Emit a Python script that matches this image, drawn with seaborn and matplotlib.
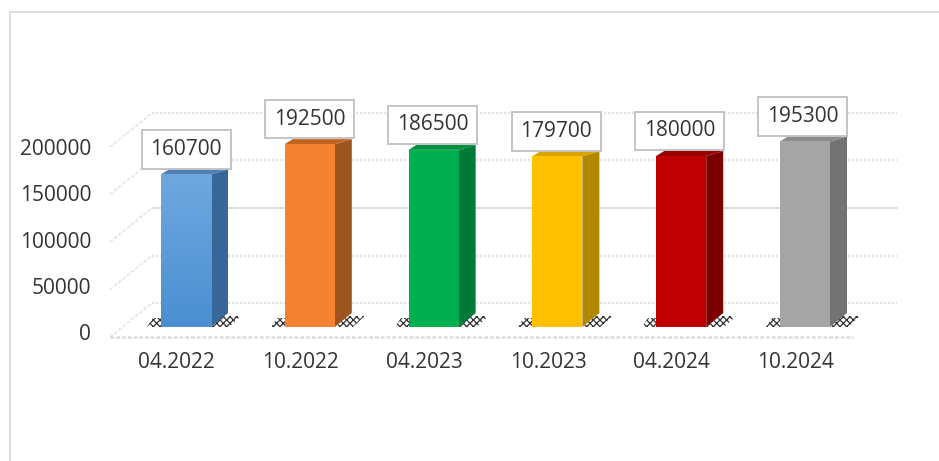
import numpy as np
import pandas as pd
import matplotlib
matplotlib.use("Agg")
import matplotlib.pyplot as plt
from matplotlib.patches import Polygon, Rectangle
from matplotlib.colors import LinearSegmentedColormap
import seaborn as sns

periods = ["04.2022", "10.2022", "04.2023", "10.2023", "04.2024", "10.2024"]
values = [160700, 192500, 186500, 179700, 180000, 195300]
front_colors = ["#5B9BD5", "#F58233", "#00B050", "#FFC000", "#C00000", "#A5A5A5"]
side_colors = ["#38689A", "#9C551F", "#007A37", "#B38600", "#7B0000", "#737373"]
top_colors = ["#4F7FB5", "#C0631F", "#008F40", "#D9A300", "#990000", "#8C8C8C"]
grid_levels = [0, 50000, 100000, 150000, 200000]

sns.set_theme(style="white")
plt.rcParams["font.family"] = ["Open Sans", "DejaVu Sans"]
plt.rcParams["hatch.linewidth"] = 0.9

W, H = 939, 461
fig = plt.figure(figsize=(W / 100, H / 100), dpi=100)
L, R, T, B = 110, 897, 100, 337
ax = fig.add_axes([L / W, 1 - B / H, (R - L) / W, (B - T) / H])

df = pd.DataFrame({"period": periods, "value": values})
sns.barplot(data=df, x="period", y="value", hue="period", palette=front_colors,
            saturation=1, width=0.404, legend=False, ax=ax, zorder=4, linewidth=0)

# pixel-to-data scales of the reference
px_x = 123.8
px_y = 47.5 / 50000
x_first = 186
y_zero = 327
ax.set_xlim((L - x_first) / px_x, (R - x_first) / px_x)
ax.set_ylim((y_zero - B) / px_y, (y_zero - T) / px_y)
dx = lambda p: p / px_x
dy = lambda p: p / px_y
half = 0.404 / 2

# back wall and side wall lines
for lv in grid_levels:
    yb = lv + dy(24)
    solid = lv == 100000
    ax.plot([dx(152 - x_first), dx(897 - x_first)], [yb, yb],
            color="#dedede" if solid else "#e3e3e3",
            lw=1.4 if solid else 1.6, ls="-" if solid else (0, (1, 0.8)),
            zorder=1, clip_on=False)
    ax.plot([dx(110 - x_first), dx(152 - x_first)], [lv - dy(10), yb], color="#e6e6e6",
            lw=1.3, ls=(0, (2, 1)), zorder=1, clip_on=False)
ax.plot([dx(110 - x_first), dx(853 - x_first)], [-dy(10)] * 2, color="#dddddd",
        lw=1.8, ls=(0, (1.5, 0.8)), zorder=1, clip_on=False)

# 3-D faces and speckled floor shadows
for i, v in enumerate(values):
    x0, x1 = i - half, i + half
    side = [(x1, v), (x1 + dx(17), v + dy(5)), (x1 + dx(17), dy(14)), (x1, 0)]
    top = [(x0, v), (x0 + dx(8), v + dy(5)), (x1 + dx(17), v + dy(5)), (x1, v)]
    ax.add_patch(Polygon(side, closed=True, fc=side_colors[i], ec="none", zorder=3))
    ax.add_patch(Polygon(top, closed=True, fc=top_colors[i], ec="none", zorder=3))
    for poly in (
        [(x0 - dx(14), 0), (x0, 0), (x0, dy(9)), (x0 - dx(8), dy(9))],
        [(x1, 0), (x1 + dx(18), 0), (x1 + dx(30), dy(11)), (x1 + dx(12), dy(11))],
    ):
        ax.add_patch(Polygon(poly, closed=True, fc="none", ec="#333333", lw=0,
                             hatch="xxxxx", zorder=2))

# soft gradient on the blue column
blue = LinearSegmentedColormap.from_list("b", ["#4A8FD2", "#6FA8DF"])
im = ax.imshow(np.linspace(0, 1, 64)[:, None], origin="lower", cmap=blue, aspect="auto",
               extent=(-half, half, 0, values[0]), zorder=4.5)
ax.set_xlim((L - x_first) / px_x, (R - x_first) / px_x)
ax.set_ylim((y_zero - B) / px_y, (y_zero - T) / px_y)

# value boxes
for i, v in enumerate(values):
    ax.annotate(str(v), xy=(i - 0.012 * i / 5 * 1.5, v), xytext=(0, 18), textcoords="offset points",
                ha="center", va="center", fontsize=15, color="#333333", zorder=6,
                annotation_clip=False,
                bbox=dict(boxstyle="square,pad=0.42", fc="white", ec="#c4c4c4", lw=1.4))

# axis labels
tick_px = [332 - k * 46.25 for k in range(5)]
ax.set_yticks([(y_zero - p) / px_y for p in tick_px])
ax.set_yticklabels([str(l) for l in grid_levels], fontsize=15, color="#333333")
ax.set_xticks(np.arange(len(periods)) - 0.075)
ax.set_xticklabels(periods, fontsize=15, color="#333333")
ax.tick_params(axis="y", length=0, pad=13.5)
ax.tick_params(axis="x", length=0, pad=11)
ax.set_xlabel("")
ax.set_ylabel("")
sns.despine(ax=ax, left=True, bottom=True)
ax.patch.set_alpha(0)

# outer chart frame
fig.add_artist(Rectangle((10 / W, -0.1), 1.1, 1.1 - 12 / H, transform=fig.transFigure,
                         fc="none", ec="#dddddd", lw=1.5))

fig.savefig("out.png", dpi=100)
